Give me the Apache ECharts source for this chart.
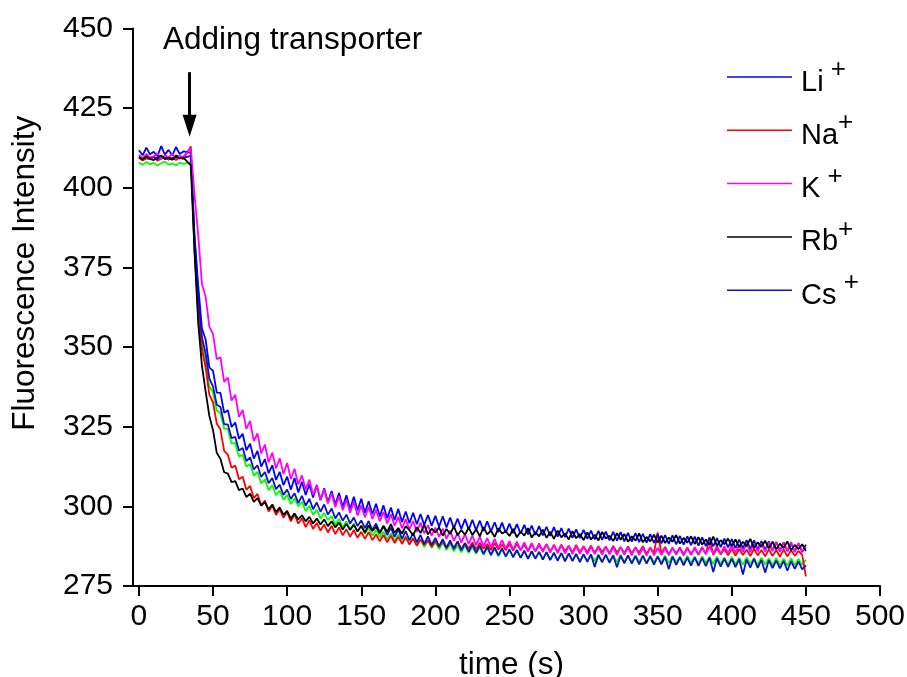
<!DOCTYPE html>
<html>
<head>
<meta charset="utf-8">
<script src="https://cdn.jsdelivr.net/npm/echarts@6/dist/echarts.min.js"></script>
<style>
  html, body { margin: 0; padding: 0; background: #fff; }
  #chart { width: 907px; height: 677px; }
</style>
</head>
<body>
<div id="chart"></div>
<script>
// Sampling times (s) shared by every trace
const TIME = [
  0, 2.5, 5, 7.5, 10, 12.5, 15, 17.5, 20, 22.5, 25, 27.5, 30,
  35, 37.5, 40, 42.5, 45, 47.5, 50, 52.5, 55, 57.5, 60, 62.5, 65, 67.5, 70, 72.5, 75, 77.5,
  80, 82.5, 85, 87.5, 90, 92.5, 95, 97.5, 100,
  102.5, 105, 107.5, 110, 112.5, 115, 117.5, 120, 122.5, 125, 127.5, 130, 132.5, 135, 137.5, 140, 142.5, 145, 147.5, 150,
  152.5, 155, 157.5, 160, 162.5, 165, 167.5, 170, 172.5, 175,
  177.5, 180, 182.5, 185, 187.5, 190, 192.5, 195, 197.5, 200,
  202.5, 205, 207.5, 210, 212.5, 215, 217.5, 220, 222.5, 225,
  227.5, 230, 232.5, 235, 237.5, 240, 242.5, 245, 247.5, 250,
  252.5, 255, 257.5, 260, 262.5, 265, 267.5, 270, 272.5, 275,
  277.5, 280, 282.5, 285, 287.5, 290, 292.5, 295, 297.5, 300,
  302.5, 305, 307.5, 310, 312.5, 315, 317.5, 320, 322.5, 325,
  327.5, 330, 332.5, 335, 337.5, 340, 342.5, 345, 347.5, 350,
  352.5, 355, 357.5, 360, 362.5, 365, 367.5, 370, 372.5, 375,
  377.5, 380, 382.5, 385, 387.5, 390, 392.5, 395, 397.5, 400,
  402.5, 405, 407.5, 410, 412.5, 415, 417.5, 420, 422.5, 425,
  427.5, 430, 432.5, 435, 437.5, 440, 442.5, 445, 447.5, 450
];

// Fluorescence intensity per cation
const LI = [
  411.8, 410.2, 412.6, 410.5, 411.3, 409.9, 413.1, 410.4, 411.9, 410.1, 412.8, 410.6, 411.4,
  411.0, 385.0, 369.3, 355.8, 352.4, 343.6, 342.5, 335.7, 335.6, 329.4, 330.2, 324.9, 326.3, 321.2, 322.8, 317.6, 319.7,
  315.0, 317.4, 312.5, 314.8, 310.4, 312.9, 308.3, 310.8, 306.7, 309.3,
  305.2, 308.9, 304.4, 307.7, 303.6, 306.9, 302.8, 306.5, 301.9, 305.7, 301.3, 304.8, 300.6, 304.2, 299.8, 303.5, 299.1, 303.0, 298.7, 302.4,
  298.0, 301.6, 297.5, 300.8, 296.8, 300.3, 296.3, 299.6, 295.7, 299.2,
  295.1, 298.4, 294.7, 298.0, 294.4, 297.6, 294.1, 297.3, 293.9, 297.0,
  293.6, 296.9, 293.4, 296.5, 293.1, 296.2, 292.9, 296.0, 292.7, 295.8,
  292.5, 295.5, 292.3, 295.3, 292.1, 295.0, 291.9, 294.9, 291.7, 294.6,
  291.6, 294.4, 291.4, 294.2, 291.2, 294.0, 291.0, 293.8, 290.9, 293.6,
  290.7, 293.5, 290.5, 293.2, 290.3, 293.0, 290.1, 292.8, 290.0, 292.6,
  289.8, 292.4, 289.6, 292.3, 289.5, 292.1, 289.3, 292.0, 289.2, 291.9,
  289.0, 291.7, 288.9, 291.6, 288.8, 291.4, 288.6, 291.3, 288.5, 291.2,
  288.4, 291.0, 288.2, 290.9, 288.1, 290.7, 288.0, 290.6, 287.8, 290.5,
  287.7, 290.3, 287.5, 290.2, 287.4, 290.0, 287.2, 289.9, 287.1, 289.7,
  286.9, 289.6, 286.8, 289.4, 286.6, 289.3, 286.5, 289.1, 286.3, 289.0,
  286.2, 288.8, 286.0, 288.7, 285.9, 288.5, 285.7, 288.4, 285.6, 288.0
];

const NA = [
  409.4, 408.6, 409.2, 408.9, 409.7, 408.5, 409.1, 409.6, 408.8, 409.3, 408.7, 409.5, 409.0,
  413.0, 380.0, 361.4, 349.3, 343.6, 335.1, 332.6, 326.0, 324.1, 317.4, 316.2, 312.1, 312.8, 308.5, 309.3, 305.2, 306.4,
  302.6, 303.9, 300.3, 301.8, 298.4, 300.2, 297.3, 299.1, 296.4, 298.2,
  295.3, 297.4, 294.6, 296.2, 293.5, 295.6, 292.9, 294.8, 292.4, 294.3, 291.8, 293.9, 291.3, 293.4, 290.9, 292.8, 290.4, 292.6, 290.1, 292.0,
  289.8, 291.9, 289.4, 291.2, 289.0, 291.0, 288.7, 290.8, 288.5, 290.4,
  288.2, 290.3, 288.0, 289.9, 287.6, 289.7, 287.9, 289.4, 287.3, 289.2,
  287.2, 289.1, 286.9, 288.8, 287.0, 289.0, 286.6, 288.5, 286.8, 288.7,
  286.5, 288.6, 286.7, 288.2, 286.3, 288.5, 286.4, 288.0, 286.2, 288.3,
  286.1, 288.2, 286.3, 287.9, 285.9, 288.1, 286.0, 287.7, 286.2, 288.0,
  285.8, 287.8, 285.7, 288.0, 285.9, 287.6, 285.5, 287.9, 285.6, 287.5,
  285.6, 287.7, 285.4, 287.5, 285.7, 287.3, 285.3, 287.6, 285.5, 287.2,
  285.3, 287.4, 285.2, 287.1, 285.5, 287.5, 285.1, 287.0, 285.4, 291.8,
  285.2, 287.3, 285.0, 286.9, 285.3, 287.1, 284.9, 287.0, 285.1, 286.8,
  284.8, 287.0, 285.0, 290.2, 284.7, 286.8, 284.9, 286.6, 284.6, 286.7,
  284.5, 286.6, 284.7, 286.4, 284.4, 286.7, 284.6, 286.3, 284.3, 286.5,
  284.4, 286.3, 284.2, 286.5, 284.3, 286.2, 284.5, 286.0, 284.8, 278.0
];

const K = [
  410.3, 409.2, 410.6, 409.5, 409.9, 410.8, 409.1, 410.2, 409.6, 410.5, 409.3, 410.0, 409.7,
  412.5, 398.0, 385.2, 369.8, 365.9, 356.4, 354.1, 346.2, 346.8, 339.1, 340.4, 333.2, 335.0, 328.1, 330.3, 324.3, 326.8,
  320.5, 322.9, 316.6, 319.4, 313.8, 316.9, 311.9, 315.1, 310.2, 313.6,
  308.6, 311.8, 306.9, 309.7, 305.3, 308.4, 303.6, 306.8, 302.1, 305.4, 300.9, 304.1, 299.7, 303.2, 298.8, 302.0, 297.9, 301.5, 297.1, 300.3,
  296.6, 299.8, 296.0, 298.9, 295.3, 298.2, 294.6, 297.5, 293.9, 296.7,
  293.1, 296.0, 292.7, 295.4, 292.0, 294.9, 291.5, 294.1, 290.8, 293.3,
  290.4, 293.0, 289.8, 292.4, 289.2, 291.7, 288.6, 291.3, 288.2, 290.8,
  287.8, 290.5, 287.5, 290.0, 287.2, 289.8, 286.9, 289.4, 286.7, 289.1,
  286.5, 288.9, 286.2, 288.7, 286.0, 288.5, 285.8, 288.4, 285.6, 288.2,
  285.5, 288.0, 285.3, 287.8, 285.2, 287.7, 285.0, 287.6, 285.1, 287.5,
  284.9, 287.4, 285.0, 287.3, 284.8, 287.4, 284.9, 287.2, 284.7, 287.3,
  284.8, 287.1, 284.6, 287.2, 284.7, 287.0, 284.5, 287.1, 284.6, 287.0,
  284.7, 286.9, 284.6, 287.1, 284.8, 286.9, 284.5, 287.0, 284.7, 287.2,
  284.9, 287.3, 285.0, 287.4, 285.2, 287.6, 285.1, 287.5, 285.3, 287.8,
  285.5, 288.0, 285.7, 288.3, 285.6, 288.5, 285.9, 288.4, 285.8, 288.7,
  285.9, 288.9, 285.8, 288.6, 286.0, 288.8, 285.7, 288.5, 285.9, 287.0
];

const RB = [
  409.6, 408.9, 409.8, 409.1, 408.7, 409.5, 410.1, 409.0, 409.4, 408.8, 409.9, 409.2, 409.5,
  407.0, 380.0, 357.5, 344.2, 336.1, 328.4, 323.9, 316.8, 314.9, 310.7, 310.3, 307.6, 307.9, 305.1, 305.6, 302.9, 304.0,
  301.4, 302.6, 300.2, 301.3, 299.1, 300.6, 298.2, 299.7, 297.3, 298.6,
  296.1, 297.8, 295.9, 297.2, 295.3, 296.7, 294.6, 296.2, 294.3, 295.9, 293.8, 295.3, 293.4, 294.9, 292.7, 294.5, 292.6, 294.2, 292.1, 293.9,
  291.8, 294.1, 292.3, 293.6, 291.5, 293.9, 292.0, 294.4, 291.7, 293.2,
  291.4, 293.8, 292.5, 290.9, 293.5, 291.6, 294.2, 291.2, 293.0, 291.8,
  293.4, 290.8, 292.9, 291.3, 293.7, 290.9, 292.6, 291.1, 293.3, 291.0,
  292.8, 290.6, 293.5, 291.2, 292.4, 290.4, 293.1, 291.5, 292.2, 290.7,
  292.9, 290.3, 292.1, 290.8, 293.2, 290.2, 291.9, 290.6, 292.7, 290.1,
  292.0, 289.8, 292.4, 290.3, 291.5, 289.6, 292.2, 290.0, 291.3, 289.4,
  291.8, 289.6, 291.1, 289.3, 292.0, 289.9, 290.8, 289.1, 291.6, 289.5,
  291.3, 288.9, 290.6, 289.2, 291.5, 288.7, 290.4, 289.0, 291.1, 288.6,
  290.8, 288.5, 290.2, 288.9, 291.0, 288.3, 290.1, 288.6, 290.6, 288.2,
  290.3, 288.0, 289.6, 287.9, 290.5, 287.6, 289.4, 288.1, 289.9, 287.5,
  289.6, 287.2, 288.9, 287.5, 289.8, 286.9, 288.7, 287.3, 289.2, 286.8,
  288.9, 286.5, 288.3, 286.9, 289.0, 286.2, 287.9, 286.6, 288.1, 286.0
];

const CS = [
  409.9, 409.1, 410.3, 409.4, 409.8, 408.9, 410.0, 409.3, 409.7, 409.0, 410.2, 409.6, 409.4,
  410.0, 384.0, 366.8, 353.1, 348.0, 340.2, 337.6, 331.9, 331.2, 325.8, 325.7, 321.4, 321.8, 317.5, 318.3, 314.2, 315.4,
  311.6, 312.9, 309.2, 310.8, 307.3, 308.9, 305.4, 306.8, 303.6, 305.3,
  302.3, 304.1, 301.0, 303.3, 300.2, 302.4, 299.1, 301.2, 298.3, 300.6, 297.4, 299.3, 296.2, 298.1, 295.5, 297.4, 294.6, 296.5, 293.8, 295.6,
  293.2, 295.4, 292.5, 294.6, 291.8, 293.8, 291.0, 293.3, 290.4, 292.7,
  289.8, 292.2, 289.3, 291.6, 288.7, 291.0, 288.2, 290.6, 287.9, 290.1,
  287.5, 289.7, 287.0, 289.3, 286.6, 288.9, 286.2, 288.4, 285.8, 288.0,
  285.5, 287.7, 285.1, 287.4, 284.8, 287.1, 284.6, 286.8, 284.3, 286.5,
  284.1, 286.3, 283.8, 286.1, 283.5, 285.9, 283.6, 285.7, 283.3, 285.6,
  283.1, 285.4, 282.9, 285.3, 282.7, 285.2, 282.8, 285.0, 282.5, 284.9,
  282.6, 284.9, 281.0, 284.7, 282.4, 284.8, 282.3, 284.6, 280.9, 284.5,
  282.1, 284.6, 282.0, 284.4, 281.8, 284.5, 282.0, 284.3, 281.7, 284.2,
  281.8, 284.1, 280.3, 284.2, 281.6, 284.0, 281.5, 283.9, 281.4, 284.0,
  281.3, 283.8, 281.2, 283.9, 279.4, 283.7, 281.1, 283.6, 281.0, 283.5,
  280.9, 283.4, 278.6, 283.3, 280.8, 283.5, 280.7, 283.2, 279.2, 283.1,
  280.6, 283.0, 280.5, 282.9, 279.8, 282.8, 280.4, 282.7, 280.2, 281.5
];

// Unlabelled green control trace
const CTRL = [
  407.9, 407.2, 408.1, 407.4, 407.8, 407.0, 407.7, 408.2, 407.3, 407.6, 407.1, 407.9, 407.5,
  408.0, 382.0, 364.6, 351.2, 345.1, 337.6, 335.8, 330.1, 329.2, 324.4, 324.3, 319.7, 319.9, 315.6, 316.2, 312.4, 313.3,
  309.6, 310.8, 307.2, 308.5, 305.1, 306.7, 303.5, 305.0, 302.0, 303.6,
  300.7, 302.5, 300.1, 301.4, 298.5, 300.2, 297.3, 298.9, 296.2, 297.9, 295.7, 296.9, 294.3, 296.1, 293.5, 295.3, 292.8, 294.6, 292.1, 293.8,
  291.4, 293.3, 290.8, 292.6, 290.3, 292.0, 289.6, 291.5, 289.2, 291.1,
  288.7, 290.6, 288.3, 290.1, 287.8, 289.5, 287.2, 289.1, 286.9, 288.7,
  286.6, 288.6, 286.3, 288.2, 285.9, 287.8, 285.6, 287.7, 285.3, 287.4,
  285.1, 287.2, 284.8, 286.9, 284.6, 286.7, 284.3, 286.5, 284.2, 286.3,
  284.0, 286.2, 283.9, 286.0, 283.6, 285.9, 283.5, 285.7, 283.4, 285.6,
  283.3, 285.5, 283.2, 285.4, 283.0, 285.3, 283.1, 285.1, 282.9, 285.0,
  282.9, 285.0, 282.7, 284.9, 282.8, 284.8, 282.6, 284.7, 282.5, 284.8,
  282.5, 284.6, 282.4, 284.7, 282.6, 284.5, 282.3, 284.6, 282.4, 284.4,
  282.3, 284.5, 282.2, 284.4, 282.4, 284.3, 282.1, 284.5, 282.2, 284.2,
  282.0, 284.3, 282.2, 284.1, 281.9, 284.2, 282.0, 284.0, 281.8, 284.1,
  281.8, 283.9, 281.7, 284.0, 281.9, 283.8, 281.6, 283.9, 281.7, 283.7,
  281.5, 283.8, 281.6, 283.6, 281.4, 283.7, 281.5, 283.5, 281.6, 283.2
];

// Axis ticks
const X_TICKS = [0, 50, 100, 150, 200, 250, 300, 350, 400, 450, 500];
const Y_TICKS = [275, 300, 325, 350, 375, 400, 425, 450];

// Legend labels: [series name, element, superscript]
const LEGEND = [
  ['Li+', 'Li', ' +'],
  ['Na+', 'Na', '+'],
  ['K+', 'K', ' +'],
  ['Rb+', 'Rb', '+'],
  ['Cs+', 'Cs', ' +']
];

// Injection marker
const ADD_TIME = 34.2;
const ARROW_FROM = 436.3;
const ARROW_TO = 419.5;

const FONT = "'Liberation Sans', Arial, Helvetica, sans-serif";

const chart = echarts.init(document.getElementById('chart'), null, { renderer: 'canvas' });

function trace(name, color, values, extra) {
  return Object.assign({
    name: name,
    type: 'line',
    data: TIME.map((t, i) => [t, values[i]]),
    symbol: 'none',
    showSymbol: false,
    lineStyle: { color: color, width: 1.8 },
    itemStyle: { color: color },
    emphasis: { disabled: true },
    silent: true,
    animation: false
  }, extra || {});
}

const legendNames = LEGEND.map(l => l[0]);
const legendText = {};
LEGEND.forEach(l => { legendText[l[0]] = '{n|' + l[1] + '}{s|' + l[2] + '}'; });

const option = {
  backgroundColor: '#ffffff',
  animation: false,
  grid: { left: 133, right: 27, top: 28.5, bottom: 91, containLabel: false, outerBoundsMode: 'none' },
  xAxis: {
    type: 'value',
    min: -4,
    max: 500,
    name: 'time (s)',
    nameLocation: 'middle',
    nameGap: 63,
    nameTextStyle: { fontFamily: FONT, fontSize: 31.5, color: '#000', padding: [0, 0, 0, 10] },
    axisLine: { show: true, onZero: false, lineStyle: { color: '#000', width: 2 } },
    axisTick: { show: true, inside: false, length: 10, customValues: X_TICKS, lineStyle: { color: '#000', width: 2 } },
    axisLabel: { customValues: X_TICKS, fontFamily: FONT, fontSize: 30, color: '#000', margin: 16 },
    splitLine: { show: false }
  },
  yAxis: {
    type: 'value',
    min: 275,
    max: 450,
    interval: 25,
    name: 'Fluorescence Intensity',
    nameLocation: 'middle',
    nameGap: 92,
    nameTextStyle: { fontFamily: FONT, fontSize: 31.5, color: '#000', padding: [0, 0, 0, 68] },
    axisLine: { show: true, onZero: false, lineStyle: { color: '#000', width: 2 } },
    axisTick: { show: true, inside: false, length: 10, customValues: Y_TICKS, lineStyle: { color: '#000', width: 2 } },
    axisLabel: { customValues: Y_TICKS, fontFamily: FONT, fontSize: 30, color: '#000', margin: 20 },
    splitLine: { show: false }
  },
  legend: {
    data: legendNames,
    orient: 'vertical',
    left: 722,
    top: 52,
    icon: 'rect',
    itemWidth: 65,
    itemHeight: 1.5,
    itemGap: 13.3,
    selectedMode: false,
    formatter: name => legendText[name],
    textStyle: {
      fontFamily: FONT,
      color: '#000',
      rich: {
        n: { fontFamily: FONT, fontSize: 29, color: '#000', lineHeight: 40, verticalAlign: 'bottom', padding: [0, 0, 0, 4] },
        s: { fontFamily: FONT, fontSize: 26, color: '#000', lineHeight: 5, verticalAlign: 'top' }
      }
    }
  },
  graphic: [{
    type: 'text',
    left: 163,
    top: 24,
    silent: true,
    style: { text: 'Adding transporter', font: '31.5px ' + FONT, fill: '#000' }
  }],
  series: [
    trace('control', '#00ff00', CTRL),
    trace('Na+', '#ff0000', NA),
    trace('Cs+', '#1010c8', CS),
    trace('Li+', '#0000ff', LI),
    trace('K+', '#ff00ff', K),
    trace('Rb+', '#000000', RB, {
      markLine: {
        silent: true,
        animation: false,
        label: { show: false },
        emphasis: { disabled: true },
        lineStyle: { color: '#000', width: 3, type: 'solid' },
        data: [[
          { coord: [ADD_TIME, ARROW_FROM], symbol: 'none' },
          { coord: [ADD_TIME, ARROW_TO], symbol: 'triangle', symbolSize: [14, 22] }
        ]]
      }
    })
  ]
};

chart.setOption(option);
</script>
</body>
</html>
